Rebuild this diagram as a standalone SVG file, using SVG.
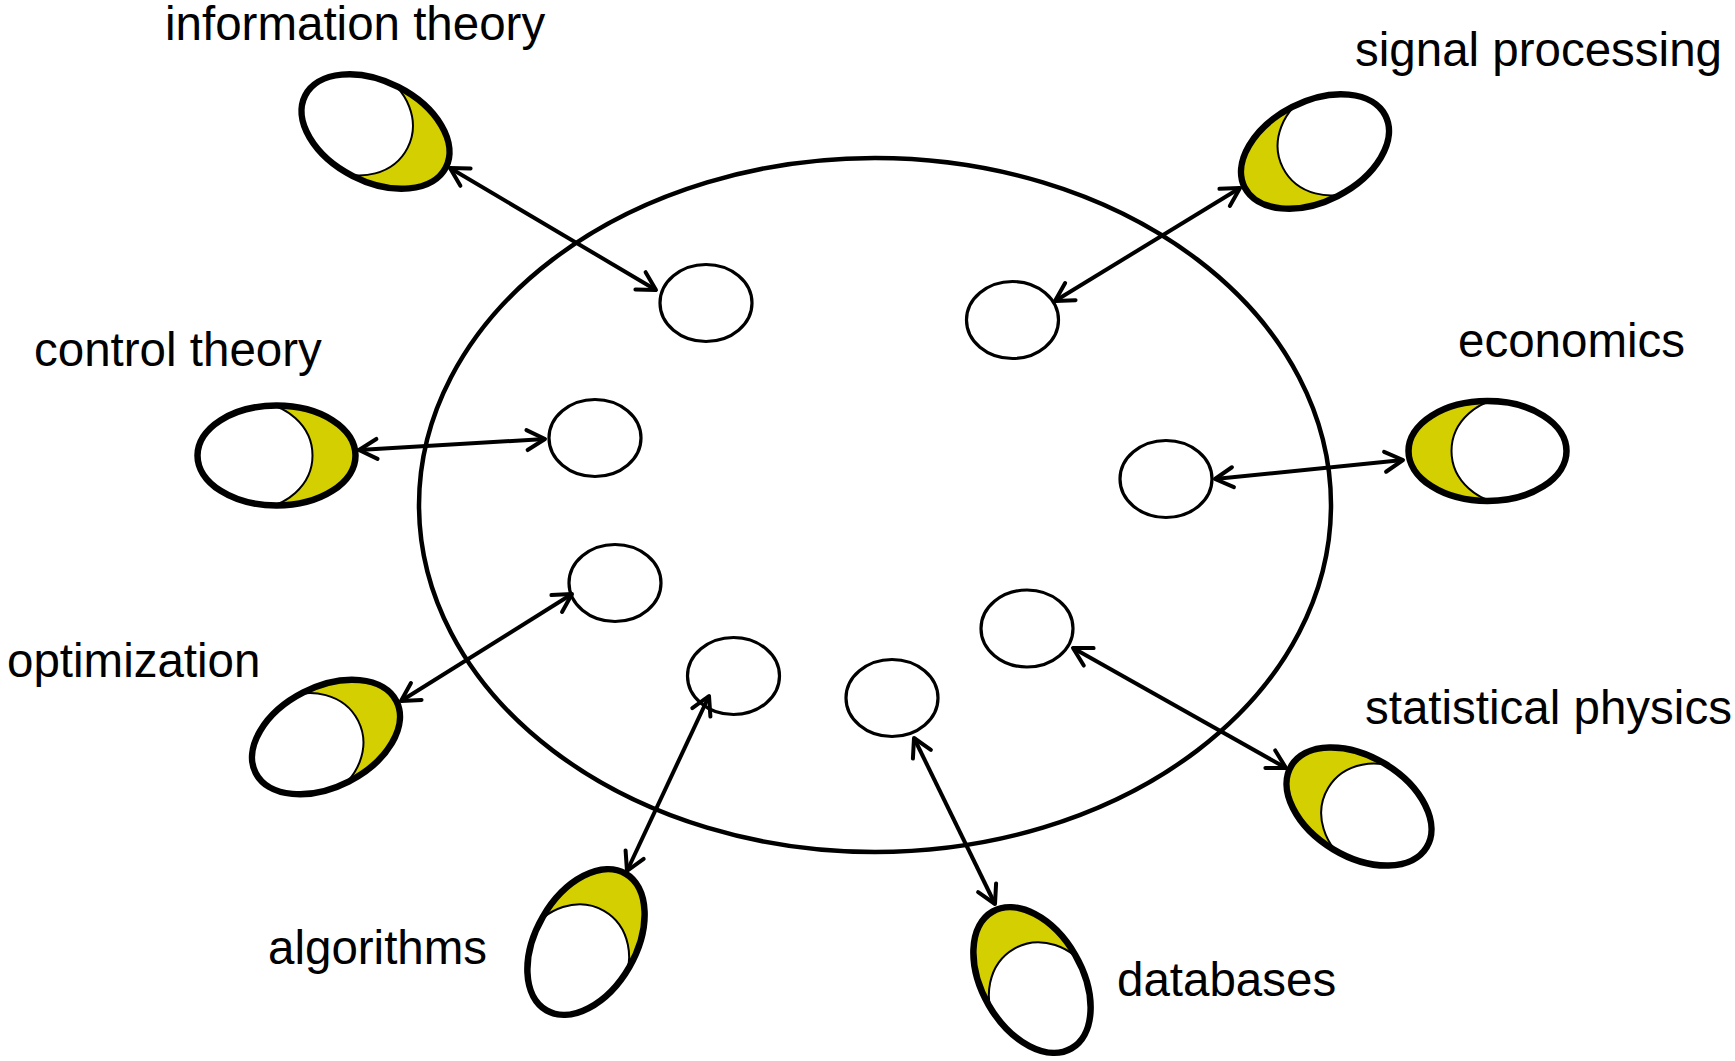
<svg xmlns="http://www.w3.org/2000/svg" xmlns:xlink="http://www.w3.org/1999/xlink" width="1735" height="1061" viewBox="0 0 1735 1061">
<style>
  .lbl { font-family: "Liberation Sans", Arial, sans-serif; font-size: 47.5px; fill: #000; }
  .big { fill: none; stroke: #000; stroke-width: 4.5; }
  .sm { fill: #fff; stroke: #000; stroke-width: 3.2; }
  .conn { fill: none; stroke: #000; stroke-width: 4; marker-start: url(#ah); marker-end: url(#ah); }
  .mfill { fill: #D3CF00; }
  .minner { fill: #fff; stroke: #000; stroke-width: 2; }
  .mstroke { fill: none; stroke: #000; stroke-width: 6.5; }
</style>
<defs>
  <marker id="ah" markerUnits="userSpaceOnUse" orient="auto-start-reverse" overflow="visible" markerWidth="24" markerHeight="24" refX="0" refY="0">
    <path d="M-18,-10 L0,0 L-18,10" fill="none" stroke="#000" stroke-width="4" stroke-linecap="round" stroke-linejoin="round"/>
  </marker>
  <clipPath id="oc"><ellipse cx="0" cy="0" rx="79" ry="50"/></clipPath>
  <g id="moon">
    <ellipse class="mfill" cx="0" cy="0" rx="79" ry="50"/>
    <ellipse class="minner" cx="-23" cy="0" rx="59" ry="53" clip-path="url(#oc)"/>
    <ellipse class="mstroke" cx="0" cy="0" rx="79" ry="50"/>
  </g>
</defs>
<rect width="1735" height="1061" fill="#fff"/>

<g id="hub">
  <ellipse class="big" cx="875" cy="505" rx="456" ry="347"/>
</g>

<g id="inner-nodes">
  <ellipse id="i1" class="sm" cx="706" cy="303" rx="46" ry="38.5"/>
  <ellipse id="i2" class="sm" cx="1012.5" cy="320" rx="46" ry="38.5"/>
  <ellipse id="i3" class="sm" cx="595" cy="438" rx="46" ry="38.5"/>
  <ellipse id="i4" class="sm" cx="1166" cy="479" rx="46" ry="38.5"/>
  <ellipse id="i5" class="sm" cx="615" cy="583" rx="46" ry="38.5"/>
  <ellipse id="i6" class="sm" cx="1027" cy="628.5" rx="46" ry="38.5"/>
  <ellipse id="i7" class="sm" cx="733.5" cy="676" rx="46" ry="38.5"/>
  <ellipse id="i8" class="sm" cx="892" cy="698" rx="46" ry="38.5"/>
</g>

<g id="connectors">
  <line class="conn" x1="450" y1="168" x2="656" y2="290"/>
  <line class="conn" x1="1240" y1="188" x2="1055" y2="301"/>
  <line class="conn" x1="359" y1="450" x2="545" y2="439"/>
  <line class="conn" x1="1215" y1="479" x2="1403" y2="460"/>
  <line class="conn" x1="401" y1="701" x2="572" y2="594"/>
  <line class="conn" x1="1073" y1="648" x2="1286" y2="768"/>
  <line class="conn" x1="709" y1="696" x2="627" y2="871"/>
  <line class="conn" x1="914" y1="738" x2="995" y2="904"/>
</g>

<g id="n-information-theory">
  <use xlink:href="#moon" href="#moon" transform="translate(375.5,131.5) rotate(27)"/>
  <text class="lbl" x="165" y="40">information theory</text>
</g>
<g id="n-signal-processing">
  <use xlink:href="#moon" href="#moon" transform="translate(1315,151.5) rotate(153)"/>
  <text class="lbl" x="1355" y="66">signal processing</text>
</g>
<g id="n-control-theory">
  <use xlink:href="#moon" href="#moon" transform="translate(276.5,455.5) rotate(0)"/>
  <text class="lbl" x="34" y="366">control theory</text>
</g>
<g id="n-economics">
  <use xlink:href="#moon" href="#moon" transform="translate(1487.5,451) rotate(180)"/>
  <text class="lbl" x="1458" y="357">economics</text>
</g>
<g id="n-optimization">
  <use xlink:href="#moon" href="#moon" transform="translate(326,737) rotate(-27)"/>
  <text class="lbl" x="7" y="677">optimization</text>
</g>
<g id="n-statistical-physics">
  <use xlink:href="#moon" href="#moon" transform="translate(1359,806.5) rotate(-149)"/>
  <text class="lbl" x="1365" y="724">statistical physics</text>
</g>
<g id="n-algorithms">
  <use xlink:href="#moon" href="#moon" transform="translate(586,942) rotate(-60)"/>
  <text class="lbl" x="268" y="964">algorithms</text>
</g>
<g id="n-databases">
  <use xlink:href="#moon" href="#moon" transform="translate(1032,980) rotate(-120)"/>
  <text class="lbl" x="1117" y="996">databases</text>
</g>
</svg>
